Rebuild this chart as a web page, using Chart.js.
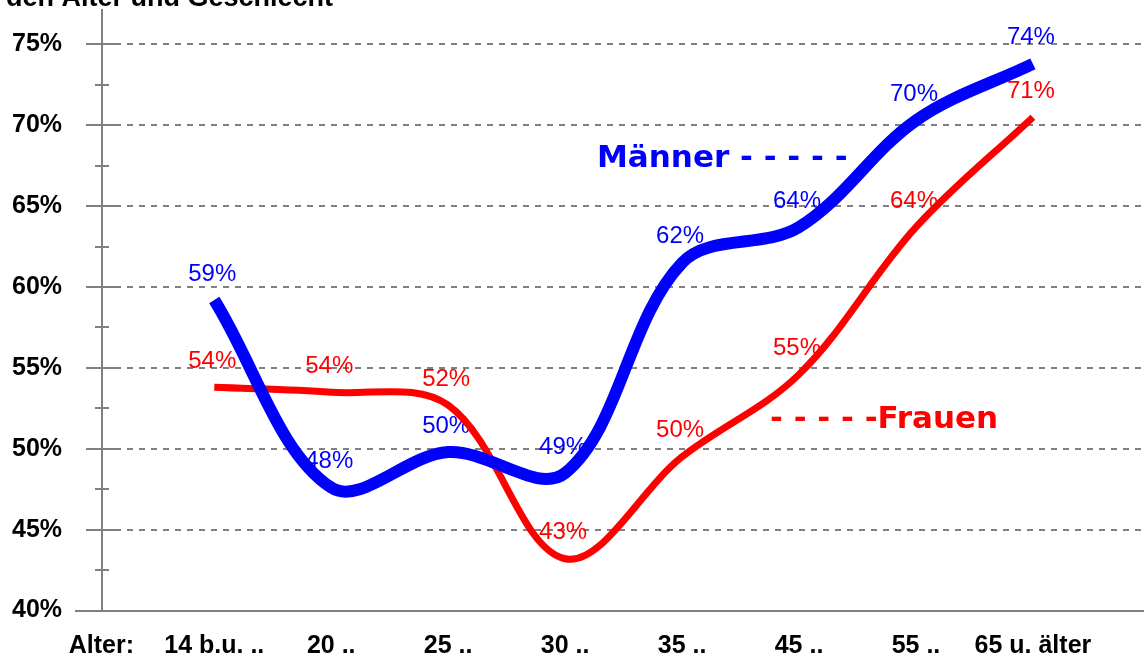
<!DOCTYPE html>
<html>
<head>
<meta charset="utf-8">
<script src="https://cdn.jsdelivr.net/npm/chart.js@4/dist/chart.umd.min.js"></script>
<style>
  body { margin: 0; background: #fff; }
  canvas { display: block; }
</style>
</head>
<body>
<canvas id="ageChart" width="1144" height="659"></canvas>
<script>
// values (percent)
const categories = ['14 b.u. ..', '20 ..', '25 ..', '30 ..', '35 ..', '45 ..', '55 ..', '65 u. älter'];
const maenner = [59.2, 47.6, 49.8, 48.5, 61.5, 63.7, 70.3, 73.8];
const frauen = [53.8, 53.5, 52.7, 43.2, 49.5, 54.6, 63.7, 70.5];
const maennerLabels = ['59%', '48%', '50%', '49%', '62%', '64%', '70%', '74%'];
const frauenLabels = ['54%', '54%', '52%', '43%', '50%', '55%', '64%', '71%'];
const yTicks = [40, 42.5, 45, 47.5, 50, 52.5, 55, 57.5, 60, 62.5, 65, 67.5, 70, 72.5, 75];

const axisGray = '#808080';

function toPoints(values) {
    return values.map((v, i) => ({ x: i + 1, y: v }));
}

// tick marks across the y axis, point labels and the free text
const decorations = {
    id: 'decorations',
    beforeDatasetsDraw(chart) {
        const ctx = chart.ctx;
        const y = chart.scales.y;
        const x0 = chart.chartArea.left;
        ctx.save();
        ctx.strokeStyle = axisGray;
        ctx.lineWidth = 2;
        yTicks.forEach(t => {
            const py = Math.round(y.getPixelForValue(t));
            ctx.beginPath();
            if (t === 40) {
                ctx.moveTo(75, py);
                ctx.lineTo(x0, py);
            } else if (t % 5 === 0) {
                ctx.moveTo(x0 - 16, py);
                ctx.lineTo(x0 + 16, py);
            } else {
                ctx.moveTo(x0 - 7, py);
                ctx.lineTo(x0 + 7, py);
            }
            ctx.stroke();
        });

        // value labels above each point
        ctx.font = '24px "Liberation Sans", Arial, sans-serif';
        ctx.textAlign = 'center';
        ctx.textBaseline = 'middle';
        chart.data.datasets.forEach((ds, di) => {
            const meta = chart.getDatasetMeta(di);
            meta.data.forEach((pt, i) => {
                ctx.fillStyle = ds.borderColor;
                ctx.fillText(ds.pointTexts[i], pt.x - 2, pt.y - 26);
            });
        });
        ctx.restore();
    },
    afterDraw(chart) {
        const ctx = chart.ctx;
        const xs = chart.scales.x;
        ctx.save();
        ctx.fillStyle = '#000';
        ctx.font = 'bold 27px "Liberation Sans", Arial, sans-serif';
        ctx.textAlign = 'right';
        ctx.textBaseline = 'alphabetic';
        ctx.fillText('den Alter und Geschlecht', 333, 6);

        ctx.font = 'bold 25px "Liberation Sans", Arial, sans-serif';
        ctx.textAlign = 'center';
        ctx.textBaseline = 'middle';
        ctx.fillText('Alter:', xs.getPixelForValue(0) + 4, 646);

        ctx.font = 'bold 31px "DejaVu Sans", sans-serif';
        ctx.textAlign = 'left';
        ctx.textBaseline = 'alphabetic';
        ctx.fillStyle = '#0000ff';
        ctx.fillText('Männer - - - - -', 597, 167);
        ctx.fillStyle = '#ff0000';
        ctx.fillText('- - - - -Frauen', 770, 428);
        ctx.restore();
    }
};

const ctx = document.getElementById('ageChart').getContext('2d');
const ageChart = new Chart(ctx, {
    type: 'line',
    data: {
        datasets: [{
            label: 'Männer',
            data: toPoints(maenner),
            pointTexts: maennerLabels,
            borderColor: '#0000ff',
            borderWidth: 12,
            tension: 0.35,
            pointRadius: 0
        }, {
            label: 'Frauen',
            data: toPoints(frauen),
            pointTexts: frauenLabels,
            borderColor: '#ff0000',
            borderWidth: 7,
            tension: 0.35,
            pointRadius: 0
        }]
    },
    options: {
        responsive: false,
        animation: false,
        layout: { padding: { top: 10, left: 12, right: 0, bottom: 0 } },
        plugins: {
            legend: { display: false },
            tooltip: { enabled: false }
        },
        scales: {
            x: {
                type: 'linear',
                min: 0.04,
                max: 8.95,
                afterBuildTicks: scale => {
                    scale.ticks = categories.map((c, i) => ({ value: i + 1 }));
                },
                afterFit: scale => { scale.height = 48.5; },
                grid: { display: false },
                border: { display: true, color: axisGray, width: 2 },
                ticks: {
                    autoSkip: false,
                    maxRotation: 0,
                    padding: 13,
                    color: '#000',
                    font: { family: '"Liberation Sans", Arial, sans-serif', size: 25, weight: 'bold' },
                    callback: v => categories[v - 1]
                }
            },
            y: {
                min: 40,
                max: 77.13,
                afterBuildTicks: scale => {
                    scale.ticks = yTicks.map(v => ({ value: v }));
                },
                afterFit: scale => { scale.width = 90; },
                grid: {
                    drawTicks: false,
                    lineWidth: 2,
                    color: c => (c.tick && c.tick.value % 5 === 0 && c.tick.value !== 40) ? axisGray : 'rgba(0,0,0,0)'
                },
                border: { display: true, color: axisGray, width: 2, dash: [6, 6] },
                ticks: {
                    padding: 0,
                    crossAlign: 'far',
                    color: '#000',
                    font: { family: '"Liberation Sans", Arial, sans-serif', size: 25, weight: 'bold', lineHeight: 0.8 },
                    callback: v => (v % 5 === 0 ? v + '%' : '')
                }
            }
        }
    },
    plugins: [decorations]
});
</script>
</body>
</html>
